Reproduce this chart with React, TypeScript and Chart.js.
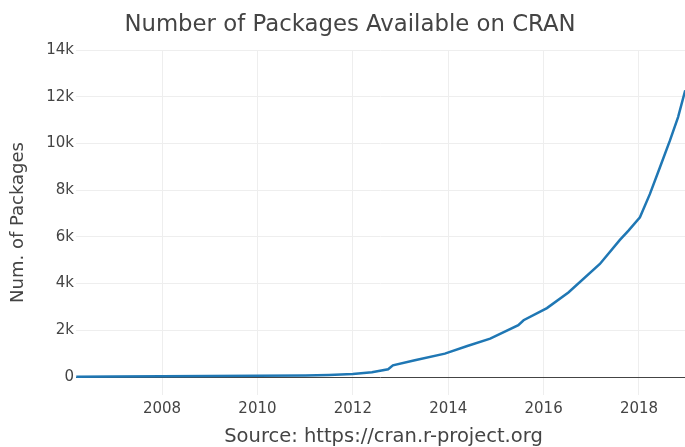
import React, { useEffect, useRef } from "react";
import { Chart, registerables } from "chart.js";

Chart.register(...registerables);

// Data (decimal year, number of packages)
const years = [
  2006.2, 2007, 2008, 2009, 2010, 2011, 2011.5, 2012, 2012.4, 2012.74, 2012.84,
  2013.3, 2013.93, 2014.4, 2014.88, 2015.47, 2015.58, 2016.07, 2016.52, 2017.18,
  2017.6, 2017.78, 2018.02, 2018.23, 2018.44, 2018.65, 2018.82, 2018.97,
];
const packages = [
  10, 20, 30, 40, 50, 70, 90, 130, 200, 330, 500,
  720, 1000, 1330, 1640, 2220, 2430, 2950, 3620, 4840,
  5870, 6270, 6840, 7840, 8980, 10130, 11130, 12270,
];
const xTicks = [2008, 2010, 2012, 2014, 2016, 2018];
const yTicks = [0, 2000, 4000, 6000, 8000, 10000, 12000, 14000];

const titleText = "Number of Packages Available on CRAN";
const xTitleText = "Source: https://cran.r-project.org";
const yTitleText = "Num. of Packages";

const FONT = "'DejaVu Sans', sans-serif";
const TEXT = "#444";

const textPlugin = {
  id: "plotlyTexts",
  afterDraw(chart: any) {
    const ctx = chart.ctx as CanvasRenderingContext2D;
    const area = chart.chartArea;
    ctx.save();
    ctx.fillStyle = TEXT;
    ctx.textAlign = "center";
    ctx.textBaseline = "middle";
    ctx.font = `22.8px ${FONT}`;
    ctx.fillText(titleText, 350, 25);
    ctx.font = `19.5px ${FONT}`;
    ctx.fillText(xTitleText, (area.left + area.right) / 2 + 3, 437);
    ctx.font = `18px ${FONT}`;
    ctx.translate(18.5, (area.top + area.bottom) / 2);
    ctx.rotate(-Math.PI / 2);
    ctx.fillText(yTitleText, 0, 0);
    ctx.restore();
  },
};

export default function App() {
  const ref = useRef<HTMLCanvasElement | null>(null);
  useEffect(() => {
    if (!ref.current) return;
    const chart = new Chart(ref.current, {
      type: "line",
      data: {
        datasets: [
          {
            data: years.map((y, i) => ({ x: y, y: packages[i] })),
            borderColor: "#1f77b4",
            borderWidth: 2.5,
            pointRadius: 0,
            tension: 0,
            fill: false,
          },
        ],
      },
      options: {
        animation: false,
        responsive: true,
        maintainAspectRatio: false,
        layout: { padding: { top: 50, left: 0, right: 0, bottom: 0 } },
        plugins: {
          legend: { display: false },
          tooltip: { enabled: false },
          title: { display: false },
        },
        scales: {
          x: {
            type: "linear",
            min: 2006.195,
            max: 2018.965,
            afterBuildTicks: (s: any) => {
              s.ticks = xTicks.map((v) => ({ value: v }));
            },
            afterFit: (s: any) => {
              s.height = 52;
            },
            grid: { color: "#eeeeee", lineWidth: 1, drawTicks: false },
            border: { display: false },
            ticks: {
              padding: 5,
              color: TEXT,
              font: { family: FONT, size: 15 },
              maxRotation: 0,
              autoSkip: false,
              callback: (v: any) => String(v),
            },
          },
          y: {
            type: "linear",
            min: -770,
            max: 14000,
            afterBuildTicks: (s: any) => {
              s.ticks = yTicks.map((v) => ({ value: v }));
            },
            afterFit: (s: any) => {
              s.width = 76;
            },
            grid: {
              color: (c: any) => (c.tick && c.tick.value === 0 ? "#444444" : "#eeeeee"),
              lineWidth: 1,
              drawTicks: false,
            },
            border: { display: false },
            ticks: {
              padding: 2,
              color: TEXT,
              font: { family: FONT, size: 15 },
              autoSkip: false,
              callback: (v: any) => (v === 0 ? "0" : `${v / 1000}k`),
            },
          },
        },
      },
      plugins: [textPlugin],
    });
    return () => chart.destroy();
  }, []);
  return (
    <div style={{ position: "fixed", left: 0, top: 0, width: 685, height: 447, background: "#fff" }}>
      <canvas ref={ref} />
    </div>
  );
}
